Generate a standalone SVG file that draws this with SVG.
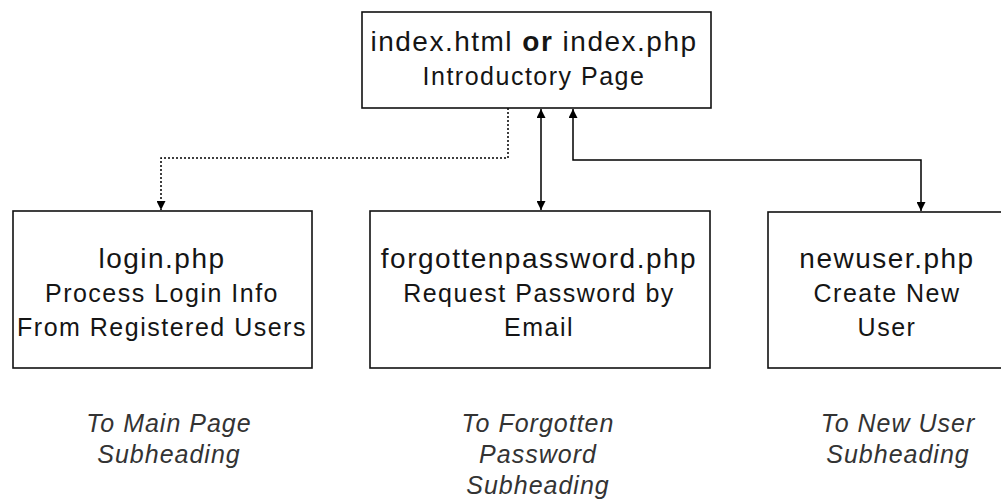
<svg xmlns="http://www.w3.org/2000/svg" width="1001" height="502" viewBox="0 0 1001 502">
<defs>
<marker id="ah" viewBox="0 0 10 10" refX="10" refY="5" markerWidth="9" markerHeight="9" markerUnits="userSpaceOnUse" orient="auto-start-reverse">
<path d="M0,0 L10,5 L0,10 z" fill="#000"/>
</marker>
<style>
.box{fill:#fff;stroke:#111;stroke-width:1.6}
.t{font-family:"Liberation Sans",Arial,sans-serif;font-size:28px;letter-spacing:1.5px;fill:#151515;text-anchor:middle}
.b{font-family:"Liberation Sans",Arial,sans-serif;font-size:25px;letter-spacing:1.5px;fill:#151515;text-anchor:middle}
.i{font-family:"Liberation Sans",Arial,sans-serif;font-size:25px;font-style:italic;letter-spacing:1px;fill:#333;text-anchor:middle}
.c{fill:none;stroke:#000;stroke-width:1.5}
.d{stroke-dasharray:2 2}
</style>
</defs>
<rect width="1001" height="502" fill="#fff"/>
<g id="connectors">
<path class="c d" d="M508,108 V158 H161 V210" marker-end="url(#ah)"/>
<path class="c" d="M541,109 V210" marker-start="url(#ah)" marker-end="url(#ah)"/>
<path class="c" d="M573,109 V160 H921 V211" marker-start="url(#ah)" marker-end="url(#ah)"/>
</g>
<g id="index">
<rect class="box" x="362" y="12" width="349" height="96"/>
<text class="t" x="534" y="51">index.html <tspan font-weight="bold">or</tspan> index.php</text>
<text class="b" x="534" y="85">Introductory Page</text>
</g>
<g id="login">
<rect class="box" x="13" y="211" width="299" height="157"/>
<text class="t" x="162" y="268">login.php</text>
<text class="b" x="162" y="302">Process Login Info</text>
<text class="b" x="162" y="336">From Registered Users</text>
</g>
<g id="forgotten">
<rect class="box" x="370" y="211" width="340" height="157"/>
<text class="t" x="539" y="268">forgottenpassword.php</text>
<text class="b" x="539" y="302">Request Password by</text>
<text class="b" x="539" y="336">Email</text>
</g>
<g id="newuser">
<rect class="box" x="768" y="212" width="250" height="156"/>
<text class="t" x="887" y="268">newuser.php</text>
<text class="b" x="887" y="302">Create New</text>
<text class="b" x="887" y="336">User</text>
</g>
<g id="labels">
<text class="i" x="169" y="432">To Main Page</text>
<text class="i" x="169" y="463">Subheading</text>
<text class="i" x="538" y="432">To Forgotten</text>
<text class="i" x="538" y="463">Password</text>
<text class="i" x="538" y="494">Subheading</text>
<text class="i" x="898" y="432">To New User</text>
<text class="i" x="898" y="463">Subheading</text>
</g>
</svg>
